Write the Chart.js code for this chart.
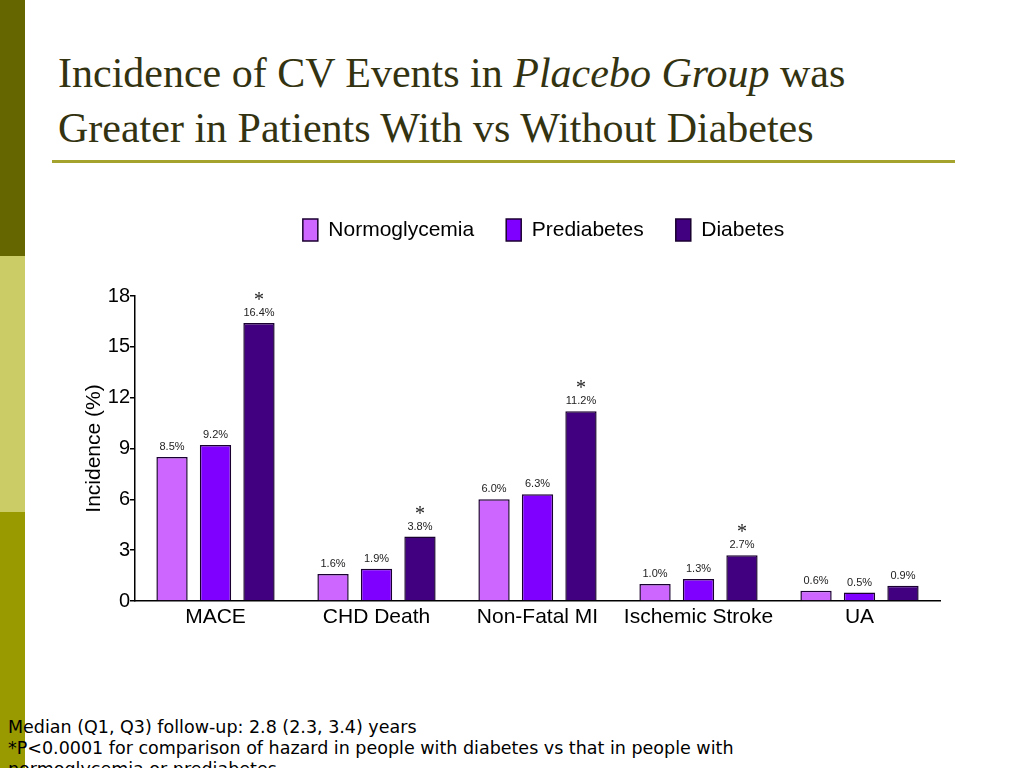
<!DOCTYPE html>
<html lang="en">
<head>
    <meta charset="UTF-8">
    <title>Incidence of CV Events in Placebo Group</title>
    <script src="https://cdn.jsdelivr.net/npm/chart.js"></script>
    <style>
        body {
            margin: 0;
            width: 1024px;
            height: 768px;
            overflow: hidden;
            background: #fff;
            position: relative;
        }
        .strip { position: absolute; left: 0; width: 25px; height: 256px; }
        h1 {
            position: absolute;
            left: 58px;
            top: 46px;
            margin: 0;
            font-family: "Liberation Serif", serif;
            font-weight: normal;
            font-size: 42px;
            line-height: 55px;
            color: #333311;
            white-space: nowrap;
        }
        .rule { position: absolute; left: 52px; top: 160px; width: 903px; height: 3px; background: #a3a32e; }
        .chart-box { position: absolute; left: 60px; top: 187px; width: 900px; height: 453px; }
        .notes {
            position: absolute;
            left: 8px;
            top: 717px;
            font-family: "DejaVu Sans", Verdana, sans-serif;
            font-size: 17.5px;
            line-height: 21px;
            color: #000;
            white-space: nowrap;
        }
    </style>
</head>
<body>
    <div class="strip" style="top:0;background:#666600"></div>
    <div class="strip" style="top:256px;background:#cccc66"></div>
    <div class="strip" style="top:512px;background:#999900"></div>

    <h1>Incidence of CV Events in <i>Placebo Group</i> was<br>Greater in Patients With vs Without Diabetes</h1>
    <div class="rule"></div>

    <div class="chart-box"><canvas id="chart"></canvas></div>

    <div class="notes">
        Median (Q1, Q3) follow-up: 2.8 (2.3, 3.4) years<br>
        *P&lt;0.0001 for comparison of hazard in people with diabetes vs that in people with<br>
        normoglycemia or prediabetes
    </div>

    <script>
        // data
        const categories = ['MACE', 'CHD Death', 'Non-Fatal MI', 'Ischemic Stroke', 'UA'];
        const normoglycemia = [8.5, 1.6, 6.0, 1.0, 0.6];
        const prediabetes = [9.2, 1.9, 6.3, 1.3, 0.5];
        const diabetes = [16.4, 3.8, 11.2, 2.7, 0.9];
        const significant = [true, true, true, true, false];
        const yTicks = [0, 3, 6, 9, 12, 15, 18];

        const sans = '"Liberation Sans", Arial, sans-serif';

        // value labels over bars, plus the asterisks
        const barLabels = {
            id: 'barLabels',
            afterDatasetsDraw(chart) {
                const ctx = chart.ctx;
                ctx.save();
                ctx.textAlign = 'center';
                ctx.textBaseline = 'alphabetic';
                chart.data.datasets.forEach((ds, i) => {
                    chart.getDatasetMeta(i).data.forEach((bar, j) => {
                        ctx.fillStyle = '#222';
                        ctx.font = '11px ' + sans;
                        ctx.fillText(ds.data[j].toFixed(1) + '%', bar.x, bar.y - 7);
                        if (i === 2 && significant[j]) {
                            ctx.font = '20px "Liberation Serif", serif';
                            ctx.fillText('*', bar.x, bar.y - 17);
                        }
                    });
                });
                ctx.restore();
            }
        };

        // extra room under the legend, and nudge it a bit to the right
        const legendGap = {
            id: 'legendGap',
            beforeInit(chart) {
                const fit = chart.legend.fit;
                chart.legend.fit = function () {
                    fit.bind(chart.legend)();
                    this.height += 45;
                };
            },
            afterLayout(chart) {
                chart.legend.left += 6;
                chart.legend.right += 6;
            }
        };

        const border = '#1a0030';

        new Chart(document.getElementById('chart'), {
            type: 'bar',
            data: {
                labels: categories,
                datasets: [
                    { label: 'Normoglycemia', data: normoglycemia, backgroundColor: '#cc66ff', borderColor: border, borderWidth: 1.5 },
                    { label: 'Prediabetes', data: prediabetes, backgroundColor: '#8000ff', borderColor: border, borderWidth: 1.5 },
                    { label: 'Diabetes', data: diabetes, backgroundColor: '#40007f', borderColor: border, borderWidth: 1.5 }
                ]
            },
            options: {
                responsive: true,
                maintainAspectRatio: false,
                animation: false,
                categoryPercentage: 0.81,
                barPercentage: 0.72,
                layout: { padding: { left: 18, right: 20, top: 0, bottom: 0 } },
                plugins: {
                    tooltip: { enabled: false },
                    legend: {
                        position: 'top',
                        fullSize: false,
                        labels: {
                            color: '#000',
                            boxWidth: 15,
                            boxHeight: 22,
                            padding: 32,
                            font: { family: sans, size: 21 }
                        }
                    }
                },
                scales: {
                    x: {
                        grid: { display: false, drawTicks: false },
                        border: { color: '#000', width: 1.5 },
                        ticks: { color: '#000', padding: 4, font: { family: sans, size: 21 } },
                        afterFit: s => { s.height = 39; }
                    },
                    y: {
                        min: 0,
                        max: 18,
                        afterBuildTicks: s => { s.ticks = yTicks.map(v => ({ value: v })); },
                        grid: { drawOnChartArea: false, color: '#000', tickLength: 5, lineWidth: 1.5 },
                        border: { color: '#000', width: 1.5 },
                        ticks: { color: '#000', padding: 0, font: { family: sans, size: 20 } },
                        title: {
                            display: true,
                            text: 'Incidence (%)',
                            color: '#000',
                            padding: { top: 4, bottom: 4 },
                            font: { family: sans, size: 21 }
                        },
                        afterFit: s => { s.width = 57; }
                    }
                }
            },
            plugins: [barLabels, legendGap]
        });
    </script>
</body>
</html>
